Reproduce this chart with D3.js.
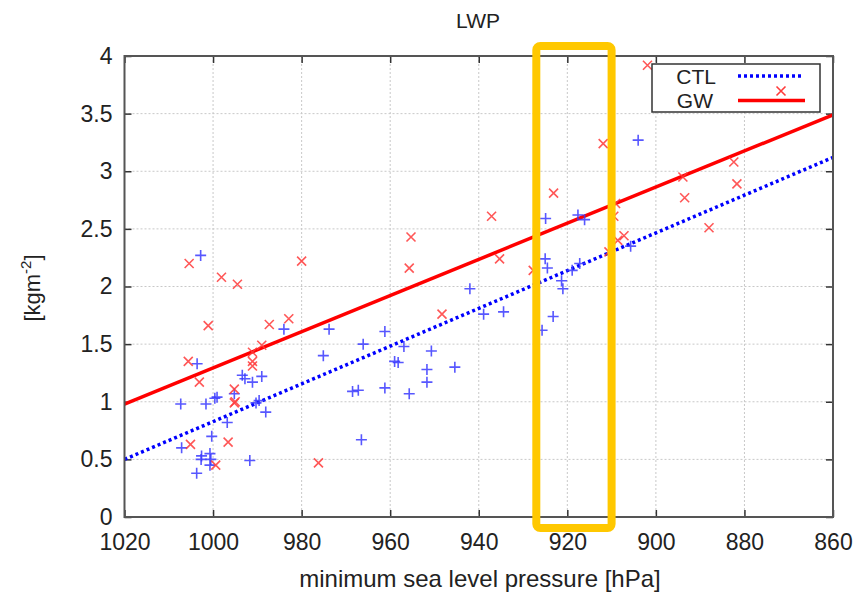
<!DOCTYPE html>
<html>
<head>
<meta charset="utf-8">
<script src="https://cdn.jsdelivr.net/npm/d3@7"></script>
<style>
  body { margin: 0; background: #fff; }
  svg { font-family: "Liberation Sans", Arial, sans-serif; }
</style>
</head>
<body>
<div id="chart"></div>
<script>
// CTL points (minimum sea level pressure, LWP)
const ctlP = [1002.8, 984.0, 973.8, 975.1, 1003.6, 993.4, 992.8, 991.1, 989.0, 995.2,
  1007.3, 1001.6, 999.6, 999.1, 990.3, 989.6, 988.1, 996.8, 1000.3, 1007.1,
  1002.6, 1002.7, 1000.7, 1000.5, 1000.7, 991.7, 1003.7, 961.2, 966.1, 956.9,
  950.7, 959.0, 958.2, 951.7, 945.4, 951.7, 968.5, 967.2, 961.2, 955.7,
  966.5, 942.0, 938.9, 934.4, 924.9, 925.0, 924.5, 925.7, 923.2, 921.3,
  921.0, 918.9, 917.2, 917.6, 916.1, 905.7, 904.0];
const ctlLWP = [2.27, 1.63, 1.63, 1.40, 1.33, 1.23, 1.20, 1.17, 1.22, 1.07,
  0.98, 0.98, 1.03, 1.04, 0.99, 1.01, 0.91, 0.82, 0.70, 0.60,
  0.53, 0.50, 0.55, 0.50, 0.45, 0.49, 0.38, 1.61, 1.50, 1.48,
  1.44, 1.35, 1.34, 1.28, 1.30, 1.17, 1.09, 1.10, 1.12, 1.07,
  0.67, 1.98, 1.76, 1.78, 2.59, 2.24, 2.16, 1.62, 1.74, 2.05,
  1.98, 2.14, 2.20, 2.62, 2.58, 2.35, 3.27];

// GW points
const gwP = [1005.4, 998.1, 994.5, 980.0, 1001.1, 987.3, 982.9, 1005.6, 1003.1, 989.0,
  991.1, 991.1, 991.1, 995.2, 995.2, 995.0, 996.6, 1005.1, 999.4, 976.2,
  955.3, 955.7, 937.1, 935.3, 948.3, 923.1, 927.7, 901.9, 911.9, 882.4,
  881.7, 893.9, 893.5, 888.0, 909.1, 909.5, 907.2, 908.6, 910.6];
const gwLWP = [2.20, 2.08, 2.02, 2.22, 1.66, 1.67, 1.72, 1.35, 1.17, 1.49,
  1.43, 1.35, 1.31, 1.11, 0.99, 1.00, 0.65, 0.63, 0.45, 0.47,
  2.43, 2.16, 2.61, 2.24, 1.76, 2.81, 2.14, 3.92, 3.24, 3.08,
  2.89, 2.95, 2.77, 2.51, 2.72, 2.61, 2.44, 2.40, 2.30];

// regression lines, evaluated at the axis ends
const fitP = [1020, 860];
const ctlFit = [0.50, 3.12];
const gwFit = [0.98, 3.49];

const xTicks = [1020, 1000, 980, 960, 940, 920, 900, 880, 860];
const yTicks = [0, 0.5, 1, 1.5, 2, 2.5, 3, 3.5, 4];
const highlightP = [927, 910];

const W = 859, H = 593;
const margin = {top: 56, right: 26, bottom: 76, left: 124.5};
const width = W - margin.left - margin.right;
const height = H - margin.top - margin.bottom;

const svg = d3.select('#chart').append('svg')
  .attr('width', W).attr('height', H);

svg.append('rect').attr('width', W).attr('height', H).attr('fill', '#fff');

const g = svg.append('g')
  .attr('transform', 'translate(' + margin.left + ',' + margin.top + ')');

const x = d3.scaleLinear().domain([1020, 860]).range([0, width]);
const y = d3.scaleLinear().domain([0, 4]).range([height, 0]);

// grid
g.append('g').selectAll('line')
  .data(xTicks.slice(1, -1)).join('line')
  .attr('x1', d => x(d)).attr('x2', d => x(d))
  .attr('y1', 0).attr('y2', height)
  .attr('stroke', '#c8c8c8').attr('stroke-dasharray', '2,2');
g.append('g').selectAll('line')
  .data(yTicks.slice(1, -1)).join('line')
  .attr('y1', d => y(d)).attr('y2', d => y(d))
  .attr('x1', 0).attr('x2', width)
  .attr('stroke', '#c8c8c8').attr('stroke-dasharray', '2,2');

// axes with inward ticks
const tickLen = 7;
g.append('g').attr('transform', 'translate(0,' + height + ')')
  .call(d3.axisBottom(x).tickValues(xTicks).tickSize(-tickLen).tickPadding(17).tickFormat(d3.format('d')))
  .call(a => a.select('.domain').remove())
  .call(a => a.selectAll('text').attr('font-size', 23).attr('fill', '#222').attr('dy', '0.71em'));
g.append('g')
  .call(d3.axisTop(x).tickValues(xTicks).tickSize(-tickLen).tickFormat(''))
  .call(a => a.select('.domain').remove());
g.append('g')
  .call(d3.axisLeft(y).tickValues(yTicks).tickSize(-tickLen).tickPadding(12).tickFormat(d3.format('~g')))
  .call(a => a.select('.domain').remove())
  .call(a => a.selectAll('text').attr('font-size', 23).attr('fill', '#222'));
g.append('g').attr('transform', 'translate(' + width + ',0)')
  .call(d3.axisRight(y).tickValues(yTicks).tickSize(-tickLen).tickFormat(''))
  .call(a => a.select('.domain').remove());
g.selectAll('.tick line').attr('stroke', '#333').attr('stroke-width', 1.5);

// regression lines
const line = d3.line().x(d => x(d[0])).y(d => y(d[1]));
g.append('path')
  .datum(d3.zip(fitP, ctlFit))
  .attr('d', line).attr('fill', 'none')
  .attr('stroke', '#0000ff').attr('stroke-width', 3.5).attr('stroke-dasharray', '3,3');
g.append('path')
  .datum(d3.zip(fitP, gwFit))
  .attr('d', line).attr('fill', 'none')
  .attr('stroke', '#ff0000').attr('stroke-width', 3.5);

// points
const plusPath = s => 'M' + (-s) + ',0H' + s + 'M0,' + (-s) + 'V' + s;
const crossPath = s => 'M' + (-s) + ',' + (-s) + 'L' + s + ',' + s + 'M' + (-s) + ',' + s + 'L' + s + ',' + (-s);

g.append('g').selectAll('path')
  .data(d3.zip(ctlP, ctlLWP)).join('path')
  .attr('transform', d => 'translate(' + x(d[0]) + ',' + y(d[1]) + ')')
  .attr('d', plusPath(5.5))
  .attr('stroke', '#3a3aff').attr('stroke-width', 1.6).attr('stroke-opacity', 0.85);

g.append('g').selectAll('path')
  .data(d3.zip(gwP, gwLWP)).join('path')
  .attr('transform', d => 'translate(' + x(d[0]) + ',' + y(d[1]) + ')')
  .attr('d', crossPath(4.5))
  .attr('stroke', '#ff3a3a').attr('stroke-width', 1.6).attr('stroke-opacity', 0.85);

// frame
g.append('rect').attr('width', width).attr('height', height)
  .attr('fill', 'none').attr('stroke', '#555').attr('stroke-width', 2);

// legend
const lg = svg.append('g');
lg.append('rect').attr('x', 652).attr('y', 64).attr('width', 168).attr('height', 48)
  .attr('fill', '#fff').attr('stroke', '#333').attr('stroke-width', 1.5);
lg.append('text').attr('x', 716).attr('y', 84).attr('text-anchor', 'end')
  .attr('font-size', 21).attr('fill', '#222').text('CTL');
lg.append('text').attr('x', 713).attr('y', 108).attr('text-anchor', 'end')
  .attr('font-size', 21).attr('fill', '#222').text('GW');
lg.append('line').attr('x1', 738).attr('x2', 804).attr('y1', 76).attr('y2', 76)
  .attr('stroke', '#0000ff').attr('stroke-width', 3.5).attr('stroke-dasharray', '3,3');
lg.append('path').attr('transform', 'translate(781,91)').attr('d', crossPath(4.5))
  .attr('stroke', '#ff3a3a').attr('stroke-width', 1.6);
lg.append('line').attr('x1', 738).attr('x2', 805).attr('y1', 100.5).attr('y2', 100.5)
  .attr('stroke', '#ff0000').attr('stroke-width', 3.5);

// titles
svg.append('text').attr('x', 478).attr('y', 28).attr('text-anchor', 'middle')
  .attr('font-size', 21).attr('fill', '#222').text('LWP');
svg.append('text').attr('x', 480).attr('y', 587).attr('text-anchor', 'middle')
  .attr('font-size', 24).attr('fill', '#222').text('minimum sea level pressure [hPa]');
const yl = svg.append('text')
  .attr('transform', 'translate(40,288) rotate(-90)')
  .attr('text-anchor', 'middle').attr('font-size', 22).attr('fill', '#222');
yl.append('tspan').text('[kgm');
yl.append('tspan').attr('font-size', 15).attr('dy', -9).text('-2');
yl.append('tspan').attr('dy', 9).text(']');

// highlight box
svg.append('rect')
  .attr('x', margin.left + x(highlightP[0])).attr('y', margin.top - 10)
  .attr('width', x(highlightP[1]) - x(highlightP[0])).attr('height', height + 21)
  .attr('rx', 4).attr('fill', 'none')
  .attr('stroke', '#ffc800').attr('stroke-width', 8);
</script>
</body>
</html>
